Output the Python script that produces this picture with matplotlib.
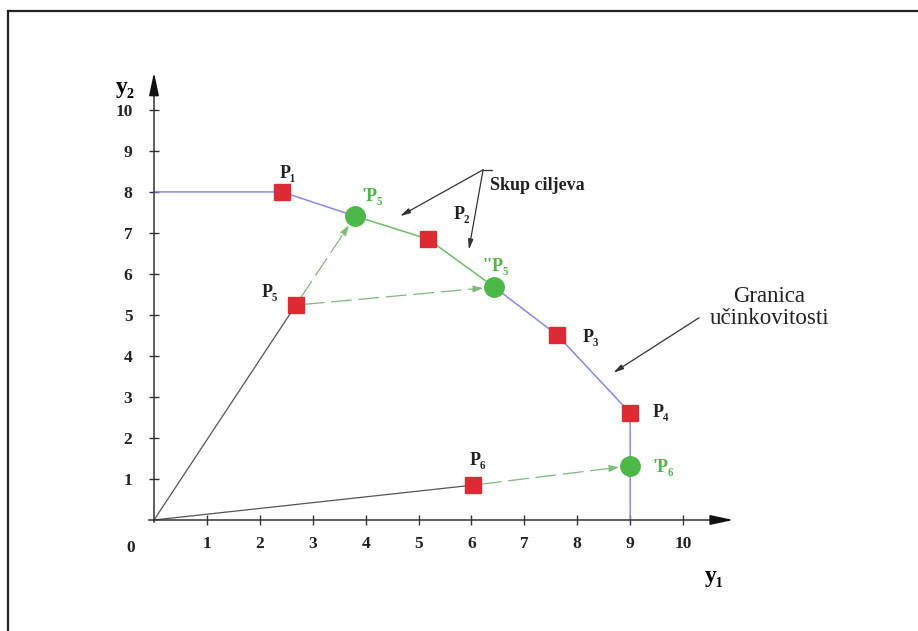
import matplotlib
matplotlib.use("Agg")
import matplotlib.pyplot as plt
from matplotlib.lines import Line2D

plt.rcParams['font.family'] = ['Liberation Serif', 'DejaVu Serif']

# objectives (squares) and projected targets (circles)
goal_names = ['P₁', 'P₂', 'P₃', 'P₄', 'P₅', 'P₆']
goal_x = [2.42, 5.18, 7.62, 9.0, 2.68, 6.03]
goal_y = [8.0, 6.85, 4.51, 2.61, 5.24, 0.85]

target_names = ["'P₅", "''P₅", "'P₆"]
target_x = [3.8, 6.43, 9.0]
target_y = [7.41, 5.68, 1.32]

# efficiency frontier, split by colour
front_blue1_x = [0, 2.42, 3.8]
front_blue1_y = [8.0, 8.0, 7.41]
front_green_x = [3.8, 5.18, 6.43]
front_green_y = [7.41, 6.85, 5.68]
front_blue2_x = [6.43, 7.62, 9.0, 9.0]
front_blue2_y = [5.68, 4.51, 2.61, 0.0]

ticks = [1, 2, 3, 4, 5, 6, 7, 8, 9, 10]

RED = '#dc2b33'
GREEN = '#4cb848'
BLUE = '#8a8ae6'
LGREEN = '#6fbf6a'
DASHED = '#7fba7a'

fig = plt.figure(figsize=(9.18, 6.31), dpi=100)
ax = fig.add_axes([0, 0, 1, 1])
ax.set_xlim(-2.911, 14.44)
ax.set_ylim(-2.707, 12.68)

for s in ['top', 'right']:
    ax.spines[s].set_visible(False)
ax.spines['left'].set_position(('data', 0))
ax.spines['bottom'].set_position(('data', 0))
ax.spines['left'].set_bounds(-0.05, 10.6)
ax.spines['bottom'].set_bounds(-0.1, 10.7)
for s in ['left', 'bottom']:
    ax.spines[s].set_linewidth(1.1)
    ax.spines[s].set_color('#333333')

ax.set_xticks(ticks)
ax.set_yticks(ticks)
ax.tick_params(axis='x', direction='inout', length=7, width=1, pad=8,
               labelsize=12.5, colors='#333333')
ax.tick_params(axis='y', direction='inout', length=7, width=1, pad=12,
               labelsize=12.5, colors='#333333')
for lab in ax.get_xticklabels() + ax.get_yticklabels():
    lab.set_fontweight('bold')
    lab.set_color('#222222')

# axis arrowheads
ax.annotate('', xy=(0, 10.98), xytext=(0, 10.4),
            arrowprops=dict(arrowstyle='-|>,head_length=1.4,head_width=0.3',
                            color='#111111', lw=1.1))
ax.annotate('', xy=(11.0, 0), xytext=(10.5, 0),
            arrowprops=dict(arrowstyle='-|>,head_length=1.4,head_width=0.3',
                            color='#111111', lw=1.1))

ax.text(-0.45, -0.68, '0', fontsize=12.5, fontweight='bold', color='#222222',
        ha='center', va='center')
ax.text(-0.55, 10.54, 'y₂', fontsize=17, fontweight='bold', ha='center', va='center')
ax.text(10.59, -1.39, 'y₁', fontsize=17, fontweight='bold', ha='center', va='center')

# rays from origin
ax.plot([0, goal_x[4]], [0, goal_y[4]], color='#555555', lw=0.9, zorder=2)
ax.plot([0, goal_x[5]], [0, goal_y[5]], color='#555555', lw=0.9, zorder=2)

# frontier
ax.plot(front_blue1_x, front_blue1_y, color=BLUE, lw=1.1, zorder=2)
ax.plot(front_green_x, front_green_y, color=LGREEN, lw=1.1, zorder=2)
ax.plot(front_blue2_x, front_blue2_y, color=BLUE, lw=1.1, zorder=2)

# dashed projection arrows
for (sx, sy), (ex, ey) in [((goal_x[4], goal_y[4]), (target_x[0], target_y[0])),
                           ((goal_x[4], goal_y[4]), (target_x[1], target_y[1])),
                           ((goal_x[5], goal_y[5]), (target_x[2], target_y[2]))]:
    ax.annotate('', xy=(ex, ey), xytext=(sx, sy),
                arrowprops=dict(arrowstyle='-|>,head_length=0.6,head_width=0.2',
                                color=DASHED, lw=0.9, ls=(0, (16, 6)),
                                shrinkA=6, shrinkB=8), zorder=2)

ax.plot(goal_x, goal_y, 's', color=RED, markersize=11, zorder=4)
ax.plot(target_x, target_y, 'o', color=GREEN, markersize=14, zorder=4)

# point labels
lab_kw = dict(fontsize=13, fontweight='bold', va='center')
ax.text(2.53, 8.46, goal_names[0], ha='center', color='#222222', **lab_kw)
ax.text(5.82, 7.44, goal_names[1], ha='center', color='#222222', **lab_kw)
ax.text(8.11, 4.44, goal_names[2], ha='left', color='#222222', **lab_kw)
ax.text(9.43, 2.61, goal_names[3], ha='left', color='#222222', **lab_kw)
ax.text(2.19, 5.54, goal_names[4], ha='center', color='#222222', **lab_kw)
ax.text(6.12, 1.46, goal_names[5], ha='center', color='#222222', **lab_kw)
ax.text(3.93, 7.9, target_names[0], ha='left', color=GREEN, **lab_kw)
ax.text(6.22, 6.17, target_names[1], ha='left', color=GREEN, **lab_kw)
ax.text(9.43, 1.29, target_names[2], ha='left', color=GREEN, **lab_kw)

# annotations
ax.text(6.35, 8.15, 'Skup ciljeva', fontsize=13, fontweight='bold', color='#222222',
        ha='left', va='center')
ax.plot([6.22, 6.38], [8.54, 8.54], color='#333333', lw=0.9)
for tip in [(4.65, 7.41), (5.95, 6.59)]:
    ax.annotate('', xy=tip, xytext=(6.22, 8.54),
                arrowprops=dict(arrowstyle='-|>,head_length=0.6,head_width=0.15',
                                color='#333333', lw=0.9, shrinkA=0, shrinkB=0))
ax.text(11.63, 5.19, 'Granica\nučinkovitosti', fontsize=16.5, color='#222222',
        ha='center', va='center', multialignment='center', linespacing=1.05)
ax.annotate('', xy=(8.68, 3.59), xytext=(10.30, 4.93),
            arrowprops=dict(arrowstyle='-|>,head_length=0.6,head_width=0.15',
                            color='#333333', lw=0.9, shrinkA=0, shrinkB=0))

# page frame (top and left edges)
fig.add_artist(Line2D([0.0087, 1.0], [0.9826, 0.9826], color='#222222', lw=1.6))
fig.add_artist(Line2D([0.0087, 0.0087], [0.0, 0.9826], color='#222222', lw=1.6))

fig.savefig('out.png', dpi=100)
